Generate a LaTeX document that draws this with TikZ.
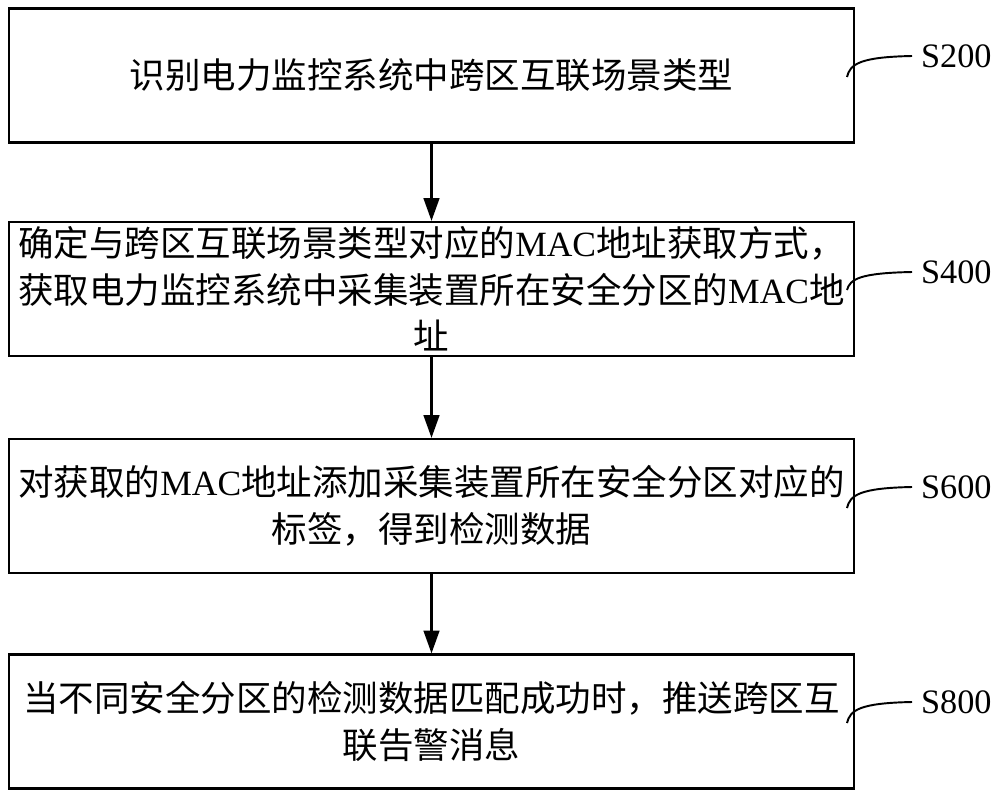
\documentclass[tikz,border=0pt]{standalone}
\usepackage{fontspec}
\setmainfont{Liberation Serif}
\newfontfamily\cjk{Noto Sans CJK SC}
\usetikzlibrary{arrows.meta}
\newcommand{\macword}{{\rmfamily MAC}}

\begin{document}
\begin{tikzpicture}[x=0.02cm, y=-0.02cm,  % 以像素为单位, 原点在左上角
    stepbox/.style={draw, line width=1.3pt, minimum width=16.9cm, minimum height=2.68cm,
        inner sep=0pt, align=center, font=\cjk\fontsize{20.2}{26.5}\selectfont},
    flowarrow/.style={line width=1.2pt, -{Triangle[length=13pt, width=9pt]}},
    steplabel/.style={font=\fontsize{19.5}{22}\selectfont, inner sep=0pt, inner xsep=5pt, anchor=west},
    leader/.style={line width=1.1pt}]

    % 画布范围
    \fill[white] (0,0) rectangle (1000,798);
    \useasboundingbox (0,0) rectangle (1000,798);

    % 绘制四个步骤框
    \node[stepbox] (b200) at (431.5,75.5) {识别电力监控系统中跨区互联场景类型}; % 第一步
    \node[stepbox] (b400) at (431.5,289) {确定与跨区互联场景类型对应的\macword 地址获取方式，\\
        获取电力监控系统中采集装置所在安全分区的\macword 地\\址}; % 第二步
    \node[stepbox] (b600) at (431.5,506) {对获取的\macword 地址添加采集装置所在安全分区对应的\\
        标签，得到检测数据}; % 第三步
    \node[stepbox] (b800) at (431.5,721.5) {当不同安全分区的检测数据匹配成功时，推送跨区互\\
        联告警消息}; % 第四步

    % 绘制步骤之间的箭头
    \draw[flowarrow] (b200) -- (b400);
    \draw[flowarrow] (b400) -- (b600);
    \draw[flowarrow] (b600) -- (b800);

    % 步骤编号
    \node[steplabel] (s200) at (912,56) {S200};
    \node[steplabel] (s400) at (912,272) {S400};
    \node[steplabel] (s600) at (912,487) {S600};
    \node[steplabel] (s800) at (912,702) {S800};

    % 引线起点
    \coordinate (p200) at (847,77);
    \coordinate (p400) at (847,290);
    \coordinate (p600) at (847,508);
    \coordinate (p800) at (847,723);

    % 绘制引线
    \draw[leader] (p200) .. controls (850,64) and (860,57) .. (s200.west);
    \draw[leader] (p400) .. controls (850,279) and (860,273) .. (s400.west);
    \draw[leader] (p600) .. controls (850,495) and (860,488) .. (s600.west);
    \draw[leader] (p800) .. controls (850,710) and (860,703) .. (s800.west);

\end{tikzpicture}
\end{document}
